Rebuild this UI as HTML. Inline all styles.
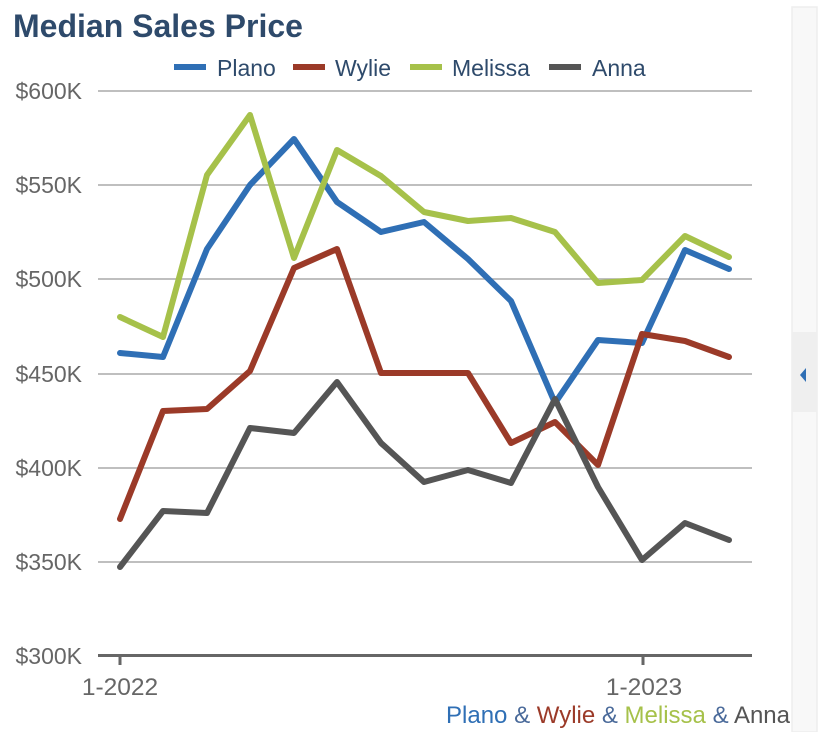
<!DOCTYPE html>
<html><head><meta charset="utf-8"><style>
body{margin:0;background:#fff;width:828px;height:732px;overflow:hidden;font-family:"Liberation Sans",sans-serif;}
</style></head><body>
<svg width="828" height="732" xmlns="http://www.w3.org/2000/svg" font-family="Liberation Sans, sans-serif">
<rect x="792" y="7" width="25" height="725" fill="#f8f8f8" stroke="#eee" stroke-width="1.5"/>
<rect x="792" y="332" width="25" height="80" fill="#efefef"/>
<polygon points="800,375 806,368 806,382" fill="#2f6fb5"/>
<text x="13" y="37" font-size="32" font-weight="bold" fill="#2e4a6b">Median Sales Price</text>
<g font-size="23" fill="#2e4a6b">
<rect x="174" y="64" width="32" height="6" fill="#2f6fb5"/><text x="217" y="76">Plano</text>
<rect x="293" y="64" width="32" height="6" fill="#9b3a28"/><text x="335" y="76">Wylie</text>
<rect x="410" y="64" width="32" height="6" fill="#a6c14a"/><text x="452" y="76">Melissa</text>
<rect x="549" y="64" width="32" height="6" fill="#555"/><text x="592" y="76">Anna</text>
</g>
<g stroke="#aaa" stroke-width="1.5">
<line x1="98" y1="91" x2="752" y2="91"/><line x1="98" y1="185" x2="752" y2="185"/>
<line x1="98" y1="279" x2="752" y2="279"/><line x1="98" y1="374" x2="752" y2="374"/>
<line x1="98" y1="468" x2="752" y2="468"/><line x1="98" y1="562" x2="752" y2="562"/>
</g>
<g font-size="23" fill="#666" text-anchor="end">
<text x="82" y="99">$600K</text><text x="82" y="193">$550K</text><text x="82" y="287">$500K</text>
<text x="82" y="382">$450K</text><text x="82" y="476">$400K</text><text x="82" y="570">$350K</text>
<text x="82" y="664">$300K</text>
</g>
<line x1="98" y1="655.5" x2="752" y2="655.5" stroke="#666" stroke-width="3"/>
<line x1="120" y1="655" x2="120" y2="665" stroke="#666" stroke-width="3"/>
<line x1="643" y1="655" x2="643" y2="665" stroke="#666" stroke-width="3"/>
<g font-size="24.5" fill="#666" text-anchor="middle">
<text x="120" y="695">1-2022</text><text x="644" y="695">1-2023</text>
</g>
<g fill="none" stroke-width="6" stroke-linejoin="round" stroke-linecap="round">
<polyline stroke="#2f6fb5" points="120,353 163,357 207,249 250,185 294,139 337,202 381,232 424,222 468,259 511,301 555,403 598,340 642,343 685,250 729,269"/>
<polyline stroke="#9b3a28" points="120,519 163,411 207,409 250,371 294,268 337,249 381,373 424,373 468,373 511,443 555,422 598,465 642,334 685,341 729,357"/>
<polyline stroke="#a6c14a" points="120,317 163,337 207,175 250,115 294,258 337,150 381,176 424,212 468,221 511,218 555,232 598,283 642,280 685,236 729,257"/>
<polyline stroke="#555" points="120,567 163,511 207,513 250,428 294,433 337,382 381,443 424,482 468,470 511,483 555,399 598,487 642,560 685,523 729,540"/>
</g>
<text x="790" y="723" font-size="24" text-anchor="end"><tspan fill="#2f6fb5">Plano</tspan><tspan fill="#4a6a9a"> &amp; </tspan><tspan fill="#9b3a28">Wylie</tspan><tspan fill="#4a6a9a"> &amp; </tspan><tspan fill="#a6c14a">Melissa</tspan><tspan fill="#4a6a9a"> &amp; </tspan><tspan fill="#555">Anna</tspan></text>
</svg>
</body></html>
